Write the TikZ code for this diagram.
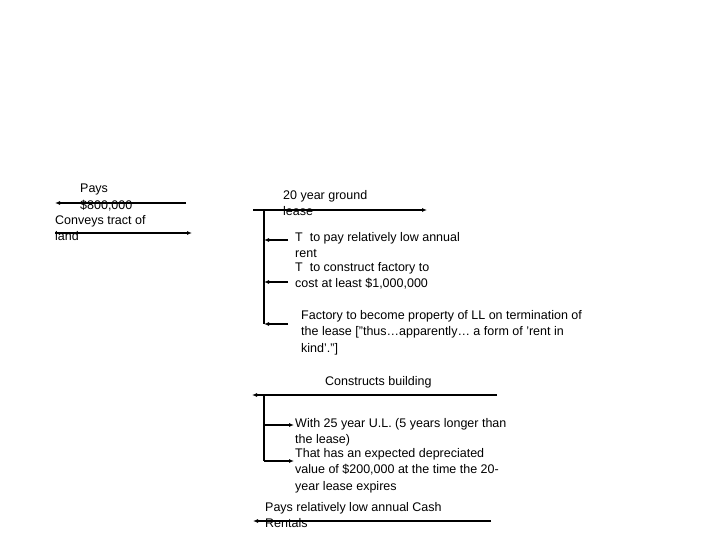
\documentclass[tikz,border=0pt]{standalone}
\usepackage{fontspec}
\setmainfont{Liberation Sans}
\usetikzlibrary{arrows.meta}
\begin{document}
\begin{tikzpicture}[x=1pt,y=-1pt,
  lbl/.style={anchor=north west,inner sep=0pt,align=left,font=\fontsize{12.5}{16.5}\selectfont},
  arr/.style={line width=1.3pt,-{Latex[length=5pt,width=4pt]}},
  ln/.style={line width=1.3pt}]
\useasboundingbox (0,0) rectangle (720,540);
% top left
\coordinate (a1) at (186,203); \coordinate (a2) at (55,203);
\draw[arr] (a1) -- (a2);
\node[lbl] (t1) at (80,184) {Pays\\\$800,000};
\coordinate (b1) at (55,233); \coordinate (b2) at (192,233);
\draw[arr] (b1) -- (b2);
\node[lbl] (t2) at (55,215) {Conveys tract of\\land};
% lease
\coordinate (c1) at (253,210); \coordinate (c2) at (427,210);
\draw[arr] (c1) -- (c2);
\node[lbl] (t3) at (283,190) {20 year ground\\lease};
\coordinate (v1) at (264,210); \coordinate (v2) at (264,324);
\draw[ln] (v1) -- (v2);
\coordinate (d1) at (288,240); \coordinate (d1e) at (264,240);
\coordinate (d2) at (288,282); \coordinate (d2e) at (264,282);
\coordinate (d3) at (288,324); \coordinate (d3e) at (264,324);
\draw[arr] (d1) -- (d1e);
\draw[arr] (d2) -- (d2e);
\draw[arr] (d3) -- (d3e);
\node[lbl] (t4) at (295,232) {T\ \ to pay relatively low annual\\rent};
\node[lbl] (t5) at (295,262) {T\ \ to construct factory to\\cost at least \$1,000,000};
\node[lbl] (t6) at (301,310) {Factory to become property of LL on termination of\\the lease ["thus…apparently… a form of 'rent in\\kind'."]};
% building
\node[lbl] (t7) at (325,376) {Constructs building};
\coordinate (e1) at (497,395); \coordinate (e2) at (252,395);
\draw[arr] (e1) -- (e2);
\coordinate (w1) at (264,395); \coordinate (w2) at (264,461);
\draw[ln] (w1) -- (w2);
\coordinate (f1) at (264,425); \coordinate (f1e) at (294,425);
\coordinate (f2) at (264,461); \coordinate (f2e) at (294,461);
\draw[arr] (f1) -- (f1e);
\draw[arr] (f2) -- (f2e);
\node[lbl] (t8) at (295,418) {With 25 year U.L. (5 years longer than\\the lease)};
\node[lbl] (t9) at (295,448) {That has an expected depreciated\\value of \$200,000 at the time the 20-\\year lease expires};
% rentals
\node[lbl] (t10) at (265,502) {Pays relatively low annual Cash\\Rentals};
\coordinate (g1) at (491,521); \coordinate (g2) at (253,521);
\draw[arr] (g1) -- (g2);
\end{tikzpicture}
\end{document}
